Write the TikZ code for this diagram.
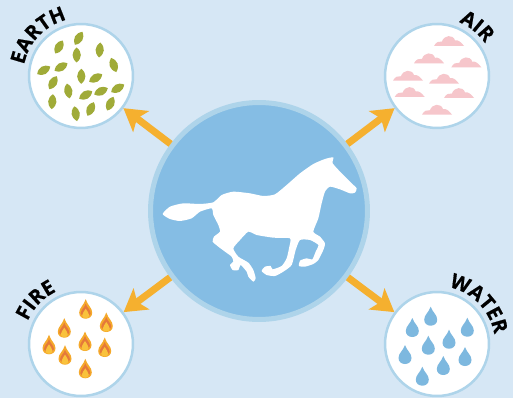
\documentclass[tikz,border=0pt]{standalone}
\usepackage{fontspec}
\setsansfont{Open Sans}[BoldFeatures={FakeBold=0.6}]
\usetikzlibrary{arrows.meta,decorations.text}
\definecolor{skybg}{HTML}{D6E7F5}
\definecolor{ringblue}{HTML}{AED4EA}
\definecolor{horseblue}{HTML}{85BDE4}
\definecolor{arrowgold}{HTML}{F5B02F}
\definecolor{leafgreen}{HTML}{A0AB38}
\definecolor{cloudpink}{HTML}{F6C6CB}
\definecolor{dropblue}{HTML}{7DB8DF}
\definecolor{flameout}{HTML}{F5A92B}
\definecolor{flamemid}{HTML}{E5793A}
\definecolor{flamein}{HTML}{F9C23C}

\begin{document}
\begin{tikzpicture}[
  x=0.02cm,
  y=-0.02cm,
  >=Stealth,
  element/.style={
    circle,
    draw=ringblue,
    line width=0.05cm,
    fill=white,
    inner sep=0pt,
    minimum size=2.08cm
  },
  centre/.style={
    circle,
    draw=ringblue,
    line width=0.1cm,
    fill=horseblue,
    inner sep=0pt,
    minimum size=4.34cm
  },
  flow/.style={
    -{Stealth[length=0.44cm,width=0.52cm,inset=0.1cm]},
    line width=0.14cm,
    arrowgold
  },
  label/.style={
    decorate,
    decoration={
      text along path,
      text align=center,
      text={|\sffamily\bfseries\fontsize{11.5}{13}\selectfont|#1}
    }
  },
  leaf/.pic={
    \fill[leafgreen] (-7.5,0) .. controls (-3,-5.5) and (3,-5.5) .. (7.5,0)
      .. controls (3,5.5) and (-3,5.5) .. (-7.5,0) -- cycle;
  },
  cloud/.pic={
    \fill[cloudpink] (-15,0) .. controls (-13,-4) and (-10,-5) .. (-7,-4.5)
      .. controls (-5,-11) and (4,-12) .. (6,-5.5)
      .. controls (9,-6.5) and (12,-4) .. (15,0) -- cycle;
  },
  drop/.pic={
    \fill[dropblue] (0,-10) .. controls (2,-4) and (6.5,-2) .. (6.5,3)
      .. controls (6.5,11) and (-6.5,11) .. (-6.5,3)
      .. controls (-6.5,-2) and (-2,-4) .. (0,-10) -- cycle;
  },
  flame/.pic={
    \fill[flameout] (0,-10.5) .. controls (2,-4) and (6.5,-2) .. (6.5,3)
      .. controls (6.5,11) and (-6.5,11) .. (-6.5,3)
      .. controls (-6.5,-2) and (-2,-4) .. (0,-10.5) -- cycle;
    \fill[flamemid] (0,-6) .. controls (1,-2) and (5,0) .. (5,4)
      .. controls (5,7.5) and (-5,7.5) .. (-5,4)
      .. controls (-5,0) and (-1,-2) .. (0,-6) -- cycle;
    \fill[flamein] (0,-1) .. controls (1,1.5) and (3.5,3) .. (3.5,5.5)
      .. controls (3.5,9.5) and (-3.5,9.5) .. (-3.5,5.5)
      .. controls (-3.5,3) and (-1,1.5) .. (0,-1) -- cycle;
  }
]

\useasboundingbox (0,0) rectangle (513,398);
\fill[skybg] (0,0) rectangle (513,398);

\node[centre] (horse) at (259,211) {};
\node[element] (earth) at (81,76) {};
\node[element] (air) at (437,76) {};
\node[element] (fire) at (81,344) {};
\node[element] (water) at (437,344) {};

% Arrows out of the centre
\draw[flow] (horse) -- (earth);
\draw[flow] (horse) -- (air);
\draw[flow] (horse) -- (fire);
\draw[flow] (horse) -- (water);

% Horse outline, traced at three times the size
\begin{scope}[shift={(150,140)},x=0.02cm/3,y=-0.02cm/3]
\fill[white] plot[smooth cycle,tension=0.35] coordinates {
  (38,222) (60,200) (100,190) (150,192) (190,187) (215,165) (250,155)
  (300,160) (340,168) (375,163) (410,135) (450,100) (490,72) (525,57)
  (550,52) (548,70) (575,100) (605,130) (620,145) (615,158) (600,160)
  (570,148) (540,140) (525,155) (515,190) (505,235) (490,275) (510,290)
  (525,310) (520,330) (505,360) (490,372) (465,380) (447,378) (450,362)
  (470,355) (487,358) (497,335) (505,315) (480,300) (450,300) (437,330)
  (425,375) (400,395) (375,408) (350,405) (335,393) (345,380) (362,378)
  (368,388) (395,378) (410,355) (418,320) (420,295) (370,293) (320,285)
  (295,275) (270,300) (250,325) (265,350) (295,368) (310,390) (317,415)
  (310,425) (295,410) (290,395) (272,375) (265,390) (248,390) (240,375)
  (250,365) (245,350) (225,335) (205,320) (188,305) (192,290) (210,275)
  (205,255) (190,225) (185,205) (150,215) (125,235) (90,243) (60,237)
};
\end{scope}

% Earth
\foreach \px/\py/\ang in {78.7/38.3/60, 59/47/60, 99.7/50/85, 76.7/55/90,
  113.7/65/110, 43.7/70.3/30, 61/67/30, 81.3/76.3/90, 95.7/78/30,
  53/82.7/60, 68.3/91/100, 117.7/88.3/30, 101/91.3/25, 85.7/95/30,
  52.3/101.7/85, 110.3/103.7/65, 90.7/109/65, 75.7/113.7/100}
  \pic[rotate=\ang] at (\px,\py) {leaf};

% Air
\foreach \px/\py in {449/46, 429/63.3, 466.3/67.3, 408/80.7, 444/83.7,
  409.7/97, 459/98, 437/114.7}
  \pic at (\px,\py) {cloud};

% Fire
\foreach \px/\py in {85.7/309.7, 64.3/328.7, 106.3/323, 85/342, 49/345.3,
  104.7/348, 65/355.7, 85.3/369.3}
  \pic at (\px,\py) {flame};

% Water
\foreach \px/\py in {430.7/316.7, 412.3/328, 467.3/327.7, 449/339.7,
  428.3/345.7, 405/355, 465/357, 443.3/366, 422.3/376.7}
  \pic at (\px,\py) {drop};

% Names round the circles
\path[label=EARTH] (earth) ++(-172:58) arc[start angle=-172,end angle=-101,radius=58];
\path[label=AIR] (air) ++(-85:58) arc[start angle=-85,end angle=-17,radius=58];
\path[label=FIRE] (fire) ++(-168:58) arc[start angle=-168,end angle=-104,radius=58];
\path[label=WATER] (water) ++(-82:58) arc[start angle=-82,end angle=-6,radius=58];

\end{tikzpicture}
\end{document}
